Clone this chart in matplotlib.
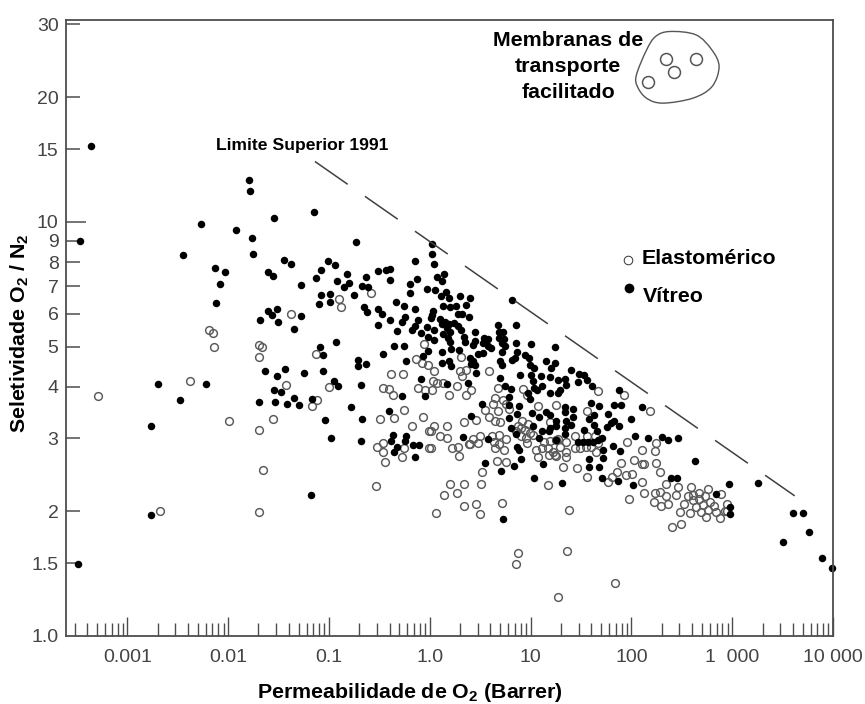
import matplotlib

matplotlib.use("Agg")
import matplotlib.patches as mpatches
import matplotlib.pyplot as plt
import numpy as np
from matplotlib.path import Path

plt.rcParams["font.family"] = ["Liberation Sans", "DejaVu Sans"]
plt.rcParams["mathtext.default"] = "regular"
plt.rcParams["lines.scale_dashes"] = False

# values, as (log10 permeability, log10 selectivity)
vitreo = [
    (-3.36, .184 + 1), (-3.47, .954), (-2.45, .920), (-2.27, .996), (-1.92, .981), (-1.79, 1.101),
    (-1.78, 1.075), (-1.54, 1.010), (-1.76, .961), (-1.75, .922), (-1.15, 1.025), (-.73, .951),
    (-2.13, .888), (-2.03, .880), (-2.08, .851), (-2.12, .805), (-1.45, .907), (-1.38, .898),
    (-1.60, .880), (-1.55, .869), (-1.28, .848), (-1.13, .865), (-1.08, .884), (-1.01, .906),
    (-.94, .896), (-.92, .857), (-.82, .874), (-.80, .853), (-.85, .844), (-1.08, .824),
    (-.99, .827), (-1.10, .802), (-.99, .807), (-.75, .823), (-.67, .845), (-.61, .842),
    (-.63, .868), (-.51, .881), (-.43, .883), (-.39, .886), (-.39, .861), (-.15, .905),
    (-.13, .863), (-.20, .850), (-.20, .829), (-.03, .837), (-1.60, .785), (-1.52, .789),
    (-1.56, .775), (-1.51, .759), (-1.68, .764), (-1.28, .772), (-1.35, .742), (-.93, .711),
    (-1.09, .697), (-.65, .795), (-.62, .782), (-.51, .789), (-.47, .778), (-.51, .752),
    (-.39, .763), (-.32, .737), (-.33, .806), (-.26, .797), (-.15, .790), (-.25, .771),
    (-.28, .758), (-.12, .763), (-.15, .749), (-.18, .739), (-.09, .731), (-.03, .747),
    (-.35, .700), (-.26, .700),
    (-2.70, .609), (-2.22, .609), (-2.48, .571), (-2.76, .508), (-2.76, .293), (-3.49, .174),
    (-1.63, .641), (-1.44, .646), (-1.52, .628), (-1.25, .636), (-1.06, .641), (-1.06, .679),
    (-.71, .667), (-.71, .651), (-.63, .656), (-.46, .682), (-.24, .664), (-.07, .676),
    (-.95, .617), (-.91, .604), (-.68, .606), (-1.54, .594), (-1.48, .589), (-1.69, .564),
    (-1.53, .566), (-1.42, .561), (-1.35, .576), (-1.30, .559), (-1.17, .573), (-.78, .554),
    (-1.04, .521), (-.67, .524), (-.98, .479), (-.68, .470), (-1.18, .340), (-.40, .543),
    (-.28, .580), (-.09, .621), (-.05, .580), (-.36, .485), (-.24, .484), (-.38, .470),
    (-.25, .470), (-.32, .457), (-.35, .445), (-.17, .462), (-.11, .461), (-.15, .432),
    (.02, .946), (.02, .922), (.04, .899), (.14, .874), (.07, .866), (.12, .857),
    (.05, .835), (.16, .832), (.11, .820), (.19, .817), (.30, .822), (.40, .816),
    (.36, .799), (.13, .797), (.20, .795), (.26, .796), (.82, .812),
    (.28, .778), (.32, .777), (.39, .770), (.03, .786), (.02, .775), (.01, .767),
    (.10, .765), (.15, .759), (.12, .754), (.19, .754), (.24, .755), (.28, .749),
    (.17, .743), (.20, .735), (.31, .739), (.13, .729), (.04, .739), (-.02, .723),
    (.04, .715), (.18, .719), (.20, .711), (.34, .721), (.35, .711), (.45, .735),
    (.45, .713), (.43, .703), (.54, .719), (.58, .717), (.53, .707), (.58, .701),
    (.61, .695), (.68, .751), (.69, .735), (.73, .735), (.69, .719), (.74, .717),
    (.72, .707), (.75, .701), (.72, .687), (.86, .751), (.86, .708), (1.00, .705),
    (.87, .687), (.85, .671), (.82, .667), (.94, .679), (.98, .671), (1.03, .648),
    (.99, .655), (.90, .630), (1.00, .630), (1.02, .617), (1.03, .600), (-.02, .689),
    (.12, .687), (.21, .693), (.29, .691), (.12, .660), (.19, .663), (.21, .652),
    (.40, .672), (.43, .664), (.45, .655), (.41, .657), (.46, .636), (.48, .681),
    (.53, .684), (.70, .664), (.72, .655), (.70, .622), (.38, .610), (.81, .597),
    (.97, .586), (1.06, .594),
    (1.24, .699), (1.15, .664), (1.24, .659), (1.20, .647), (1.40, .643), (1.10, .629),
    (1.19, .625), (1.11, .604), (1.27, .618), (1.34, .620), (1.35, .606), (1.48, .632),
    (1.53, .630), (1.56, .618), (1.47, .613), (1.61, .604), (1.19, .586), (1.27, .586),
    (.99, .572), (.79, .577), (1.88, .594), (2.11, .554), (1.83, .558), (1.90, .558),
    (1.68, .556), (1.60, .562), (.52, .560), (.89, .556), (1.01, .539), (1.08, .528),
    (1.15, .542), (1.19, .534), (1.25, .520), (1.25, .508), (1.34, .554), (1.42, .548),
    (1.34, .542), (1.42, .530), (1.35, .520), (1.58, .523), (1.63, .534), (1.77, .535),
    (2.00, .523), (1.83, .520), (1.80, .514), (1.76, .504), (1.88, .506), (1.02, .506),
    (1.11, .495), (1.18, .495), (.81, .502), (.79, .526), (.86, .488), (.87, .456),
    (.89, .449), (.33, .480), (.41, .531), (1.34, .502), (1.34, .488), (1.53, .498),
    (1.63, .510), (1.66, .494), (1.47, .469), (1.52, .469), (1.57, .469), (1.62, .469),
    (1.67, .473), (1.71, .478), (1.08, .478), (1.25, .473), (2.04, .482), (2.16, .479),
    (1.82, .460), (1.89, .447), (1.72, .449), (1.58, .428), (1.72, .429), (1.58, .409),
    (1.68, .409), (1.12, .415), (.91, .427), (.84, .411), (.71, .399), (.55, .419),
    (1.03, .382), (1.71, .382), (2.30, .480), (2.36, .473), (2.46, .478), (2.63, .423),
    (2.97, .366), (3.26, .369), (3.60, .296), (3.70, .298), (3.76, .250), (3.50, .228),
    (3.89, .189), (3.99, .164), (2.39, .382), (2.45, .382), (2.84, .343), (2.98, .312),
    (2.98, .294), (2.02, .365), (1.87, .374), (1.31, .370), (.73, .282), (1.40, .510),
    (1.19, .502), (.17, .609), (.75, .605), (1.29, .594), (.79, .558), (.87, .536),
    (.58, .476),
]

elastomerico = [
    (-.90, .815), (-.88, .795), (-.58, .829), (-1.38, .778), (-2.19, .739), (-2.15, .731),
    (-2.14, .697), (-1.69, .703), (-1.66, .699), (-.06, .705),
    (-3.29, .580), (-2.68, .301), (-2.38, .615), (-1.99, .519), (-1.69, .674), (-1.69, .497),
    (-1.65, .400), (-1.69, .300), (-1.55, .523), (-1.43, .607), (-1.12, .570), (-1.17, .556),
    (-1.13, .681), (-1.00, .601), (-.53, .362), (-.38, .634), (-.27, .634), (-.46, .599),
    (-.40, .596), (-.36, .582), (-.12, .598), (-.05, .594), (-.49, .523), (-.35, .526),
    (-.26, .546), (-.07, .529), (-.18, .507), (-.01, .496), (-.52, .456), (-.46, .465),
    (-.46, .445), (-.44, .421), (-.26, .455), (-.28, .432), (-.01, .453), (-.14, .668),
    (-.08, .660), (-.02, .655),
    (.04, .641), (.31, .675), (.30, .641), (.36, .643), (.32, .627), (.03, .617),
    (.07, .612), (.13, .612), (.27, .605), (.02, .593), (.19, .582), (.36, .582),
    (.04, .506), (.01, .495), (.17, .508), (.10, .482), (.17, .479), (.34, .516),
    (.22, .453), (.28, .457), (.29, .435), (.39, .463), (.01, .453), (.20, .367),
    (.34, .367), (.27, .346), (.14, .340),
    (.41, .593), (.59, .640), (.68, .598), (.65, .574), (.63, .560), (.68, .544),
    (.55, .546), (.59, .528), (.65, .520), (.70, .516), (.76, .560), (.79, .548),
    (.93, .597), (.96, .582), (1.07, .556), (.92, .520), (.88, .507), (.94, .498),
    (.46, .522), (.40, .464), (.43, .476), (.50, .484), (.48, .466), (.62, .482),
    (.69, .486), (.76, .476), (.64, .469), (.69, .464), (.74, .449), (.65, .453),
    (.67, .423), (.76, .420), (.52, .397), (.91, .502), (.96, .465), (.91, .482),
    (1.02, .486), (1.13, .469), (1.19, .472), (1.25, .473), (1.05, .449), (1.11, .453),
    (1.17, .453), (1.22, .445), (1.07, .433), (1.18, .437), (1.25, .435), (1.17, .365),
    (.51, .366), (.72, .321), (.46, .318), (.34, .314), (.50, .295), (.06, .296),
    (1.38, .304), (.88, .201), (.86, .174), (1.36, .205), (1.84, .128), (1.27, .093),
    (1.67, .592), (1.93, .582), (2.18, .543), (1.56, .544), (1.25, .558), (1.19, .518),
    (.73, .570), (.97, .512), (.86, .494), (.99, .490), (.95, .478), (1.27, .476),
    (1.35, .468), (1.29, .457), (1.35, .445), (1.44, .482), (1.56, .482), (1.64, .482),
    (1.44, .453), (1.49, .455), (1.55, .456), (1.60, .456), (1.65, .445), (1.67, .465),
    (1.24, .437), (1.35, .432), (1.32, .407), (1.46, .405), (1.56, .383), (1.96, .468),
    (2.11, .449), (2.24, .465), (2.23, .448), (1.90, .417), (1.86, .397), (2.11, .415),
    (2.24, .417), (1.81, .384), (1.95, .388), (2.01, .391), (2.03, .425), (2.13, .415),
    (2.28, .395), (1.77, .371), (2.11, .371), (2.34, .366), (2.46, .361), (1.98, .332),
    (2.13, .345), (2.23, .346), (2.28, .347), (2.22, .324), (2.29, .314), (2.36, .320),
    (2.34, .337), (2.44, .341), (2.48, .299), (2.59, .361), (2.76, .354), (2.89, .342),
    (2.67, .346), (2.56, .338), (2.61, .341), (2.52, .319), (2.61, .329), (2.67, .330),
    (2.73, .338), (2.78, .324), (2.82, .314), (2.95, .320), (2.64, .311), (2.71, .316),
    (2.76, .304), (2.69, .300), (2.58, .296), (2.84, .299), (2.93, .302), (2.74, .288),
    (2.88, .284), (2.49, .270), (2.40, .264), (2.95, .303),
]

# upper bound 1991, ends of the dashed line
limite_perm = [0.0726, 4170]
limite_sel = [14.0, 2.18]

# sketch of the facilitated transport region (log10 values)
blob_log_perm = [2.38, 2.64, 2.80, 2.87, 2.80, 2.61, 2.31, 2.15, 2.06, 2.05, 2.15, 2.24]
blob_log_sel = [1.460, 1.452, 1.415, 1.375, 1.327, 1.299, 1.287, 1.299, 1.327, 1.355, 1.415, 1.448]
facilitado_log_perm = [2.34, 2.42, 2.64, 2.16]
facilitado_log_sel = [1.394, 1.361, 1.393, 1.339]

x_ticks = [0.001, 0.01, 0.1, 1, 10, 100, 1000, 10000]
x_labels = ["0.001", "0.01", "0.1", "1.0", "10", "100", "1  000", "10 000"]
y_ticks = [1, 1.5, 2, 3, 4, 5, 6, 7, 8, 9, 15, 20, 30]
y_labels = ["1.0", "1.5", "2", "3", "4", "5", "6", "7", "8", "9", "15", "20", "30"]

grey = "#4d4d4d"
w, h = 865, 704

fig = plt.figure(figsize=(w / 100, h / 100), dpi=100)
ax = fig.add_axes([65.5 / w, (h - 636) / h, (833 - 65.5) / w, (636 - 19.5) / h])
ax.set_xscale("log")
ax.set_yscale("log")
ax.set_xlim(10**-3.613, 10000)
ax.set_ylim(1, 10**1.489)

vit = np.array(vitreo)
ela = np.array(elastomerico)

ax.plot(10 ** ela[:, 0], 10 ** ela[:, 1], "o", ms=5.6, mfc="none", mec="#5a5a5a", mew=1.05, clip_on=False)
ax.plot(10 ** vit[:, 0], 10 ** vit[:, 1], "o", ms=5.4, color="black", mew=0, clip_on=False)

ax.plot(limite_perm, limite_sel, color="#404040", lw=1.1, dashes=(28.8, 15.1))

# closed smooth outline through the blob points
pts = np.column_stack([blob_log_perm, blob_log_sel])
verts = [pts[0]]
codes = [Path.MOVETO]
n = len(pts)
for i in range(n):
    p0, p1, p2, p3 = pts[i - 1], pts[i], pts[(i + 1) % n], pts[(i + 2) % n]
    verts += [p1 + (p2 - p0) / 6, p2 - (p3 - p1) / 6, p2]
    codes += [Path.CURVE4] * 3
blob = mpatches.PathPatch(Path(10 ** np.array(verts), codes), fc="none", ec="#555555", lw=1.0)
ax.add_patch(blob)
ax.plot(10 ** np.array(facilitado_log_perm), 10 ** np.array(facilitado_log_sel), "o",
        ms=8.6, mfc="none", mec="#555555", mew=1.1)

# legend marks
ax.plot([10**1.97], [10**0.907], "o", ms=6.2, mfc="none", mec="#333333", mew=0.7)
ax.plot([10**1.98], [10**0.841], "o", ms=7, color="black", mew=0)

for side in ax.spines.values():
    side.set_color(grey)
    side.set_linewidth(1.3)

ax.set_xticks(x_ticks)
ax.set_xticklabels(x_labels, fontsize=14, color="#444444")
ax.xaxis.set_minor_locator(matplotlib.ticker.LogLocator(base=10, subs=range(2, 10), numticks=20))
ax.xaxis.set_minor_formatter(matplotlib.ticker.NullFormatter())
ax.tick_params(axis="x", which="major", direction="in", length=13.7, width=1.0, color=grey, pad=9)
ax.tick_params(axis="x", which="minor", direction="in", length=9.4, width=1.0, color=grey)

# 10 has the longer tick on y, so it is the major one
ax.yaxis.set_major_locator(matplotlib.ticker.FixedLocator([10]))
ax.yaxis.set_major_formatter(matplotlib.ticker.FixedFormatter(["10"]))
ax.yaxis.set_minor_locator(matplotlib.ticker.FixedLocator(y_ticks))
ax.yaxis.set_minor_formatter(matplotlib.ticker.FixedFormatter(y_labels))
ax.tick_params(axis="y", which="major", direction="in", length=14.4, width=1.1, color=grey,
               labelsize=14, labelcolor="#444444", pad=5)
ax.tick_params(axis="y", which="minor", direction="in", length=10, width=1.1, color=grey,
               labelsize=14, labelcolor="#444444", pad=5)
ax.yaxis.get_minor_ticks()[0].tick1line.set_visible(False)


def px_text(x, y, s, **kw):
    fig.text(x / w, 1 - y / h, s, fontweight="bold", color="black", va="center", **kw)


px_text(410, 693, "Permeabilidade de O$_2$ (Barrer)", fontsize=15.4, ha="center")
px_text(20, 333, "Seletividade O$_2$ / N$_2$", fontsize=15.4, ha="center", rotation=90)
px_text(216, 145.5, "Limite Superior 1991", fontsize=12.6, ha="left")
px_text(568, 41, "Membranas de", fontsize=15.4, ha="center")
px_text(568, 67, "transporte", fontsize=15.4, ha="center")
px_text(568, 93, "facilitado", fontsize=15.4, ha="center")
px_text(641.5, 258, "Elastomérico", fontsize=15.4, ha="left")
px_text(642.5, 296, "Vítreo", fontsize=15.4, ha="left")

fig.savefig("out.png", dpi=100, facecolor="white")
